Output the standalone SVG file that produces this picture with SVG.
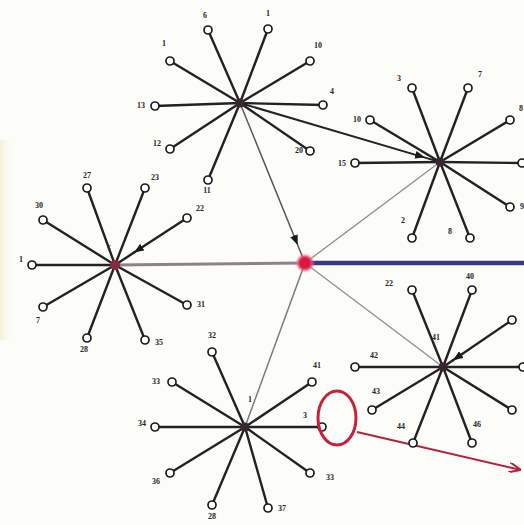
<svg xmlns="http://www.w3.org/2000/svg" width="524" height="525" viewBox="0 0 524 525">
<defs>
<style>
.sp{stroke:#222;stroke-width:2.4;fill:none;stroke-linecap:round}
.lf{fill:#fff;stroke:#1a1a1a;stroke-width:1.7}
.hub{fill:#3a2630}
.lb{font-family:"Liberation Serif",serif;font-size:8px;font-weight:bold;fill:#262626;text-anchor:middle}
.thin{stroke:#8e8e8e;stroke-width:1.3;fill:none}
</style>
<marker id="ar" viewBox="0 0 10 8" refX="10" refY="4" markerWidth="10" markerHeight="8" markerUnits="userSpaceOnUse" orient="auto">
<path d="M0,0 L10,4 L0,8 z" fill="#1a1a1a"/>
</marker>
<marker id="arr" viewBox="0 0 12 10" refX="12" refY="5" markerWidth="12" markerHeight="10" markerUnits="userSpaceOnUse" orient="auto">
<path d="M0,0 L12,5 L0,10" fill="none" stroke="#b5203c" stroke-width="2"/>
</marker>
<radialGradient id="glow">
<stop offset="0" stop-color="#e0103c"/>
<stop offset="0.6" stop-color="#e8305a"/>
<stop offset="1" stop-color="#f4a0b4" stop-opacity="0"/>
</radialGradient>
<linearGradient id="edge" x1="0" y1="0" x2="1" y2="0">
<stop offset="0" stop-color="#f3f0d8"/>
<stop offset="1" stop-color="#fcfcf9" stop-opacity="0"/>
</linearGradient>
</defs>
<rect width="524" height="525" fill="#fcfcf9"/>
<rect x="0" y="140" width="14" height="200" fill="url(#edge)"/>

<g id="connectors">
<line x1="115" y1="265" x2="305" y2="263" stroke="#8c8484" stroke-width="3"/>
<line x1="305" y1="263" x2="524" y2="263" stroke="#3b3684" stroke-width="4.5"/>
<line x1="240" y1="103" x2="297.7" y2="245" stroke="#555" stroke-width="1.5" marker-end="url(#ar)"/>
<line x1="297.7" y1="245" x2="305" y2="263" stroke="#555" stroke-width="1.5"/>
<line x1="240" y1="103" x2="425" y2="157.6" stroke="#222" stroke-width="2" marker-end="url(#ar)"/>
<line x1="425" y1="157.6" x2="440" y2="162" stroke="#222" stroke-width="2"/>
<line class="thin" x1="305" y1="263" x2="440" y2="162"/>
<line class="thin" x1="305" y1="263" x2="443" y2="367"/>
<line x1="305" y1="263" x2="245" y2="427" stroke="#7a7a7a" stroke-width="1.5"/>
<line x1="357" y1="432" x2="521" y2="470" stroke="#b5203c" stroke-width="2" marker-end="url(#arr)"/>
</g>

<g id="hub-red">
<circle cx="305" cy="263" r="10" fill="url(#glow)"/>
<circle cx="305" cy="263" r="5" fill="#d81840"/>
</g>

<g id="cluster-A">
<g class="sp">
<line x1="240" y1="103" x2="208" y2="30"/><line x1="240" y1="103" x2="268" y2="29"/>
<line x1="240" y1="103" x2="170" y2="61"/><line x1="240" y1="103" x2="310" y2="61"/>
<line x1="240" y1="103" x2="155" y2="106"/><line x1="240" y1="103" x2="323" y2="105"/>
<line x1="240" y1="103" x2="170" y2="149"/><line x1="240" y1="103" x2="310" y2="151"/>
<line x1="240" y1="103" x2="208" y2="180"/>
</g>
<circle class="hub" cx="240" cy="103" r="4.5"/>
<g id="A1"><circle class="lf" cx="208" cy="30" r="4"/><text class="lb" x="205" y="18">6</text></g>
<g id="A2"><circle class="lf" cx="268" cy="29" r="4"/><text class="lb" x="268" y="16">1</text></g>
<g id="A3"><circle class="lf" cx="170" cy="61" r="4"/><text class="lb" x="164" y="46">1</text></g>
<g id="A4"><circle class="lf" cx="310" cy="61" r="4"/><text class="lb" x="318" y="48">10</text></g>
<g id="A5"><circle class="lf" cx="155" cy="106" r="4"/><text class="lb" x="141" y="108">13</text></g>
<g id="A6"><circle class="lf" cx="323" cy="105" r="4"/><text class="lb" x="332" y="94">4</text></g>
<g id="A7"><circle class="lf" cx="170" cy="149" r="4"/><text class="lb" x="157" y="146">12</text></g>
<g id="A8"><circle class="lf" cx="310" cy="151" r="4"/><text class="lb" x="299" y="153">20</text></g>
<g id="A9"><circle class="lf" cx="208" cy="180" r="4"/><text class="lb" x="207" y="193">11</text></g>
</g>

<g id="cluster-B">
<g class="sp">
<line x1="440" y1="162" x2="412" y2="88"/><line x1="440" y1="162" x2="468" y2="88"/>
<line x1="440" y1="162" x2="370" y2="120"/><line x1="440" y1="162" x2="510" y2="120"/>
<line x1="440" y1="162" x2="355" y2="163"/><line x1="440" y1="162" x2="522" y2="163"/>
<line x1="440" y1="162" x2="510" y2="207"/><line x1="440" y1="162" x2="412" y2="238"/>
<line x1="440" y1="162" x2="470" y2="238"/>
</g>
<circle class="hub" cx="440" cy="162" r="4.5"/>
<g id="B1"><circle class="lf" cx="412" cy="88" r="4"/><text class="lb" x="399" y="81">3</text></g>
<g id="B2"><circle class="lf" cx="468" cy="88" r="4"/><text class="lb" x="480" y="77">7</text></g>
<g id="B3"><circle class="lf" cx="370" cy="120" r="4"/><text class="lb" x="357" y="122">10</text></g>
<g id="B4"><circle class="lf" cx="510" cy="120" r="4"/><text class="lb" x="521" y="111">8</text></g>
<g id="B5"><circle class="lf" cx="355" cy="163" r="4"/><text class="lb" x="342" y="166">15</text></g>
<g id="B6"><circle class="lf" cx="522" cy="163" r="4"/></g>
<g id="B7"><circle class="lf" cx="510" cy="207" r="4"/><text class="lb" x="522" y="209">9</text></g>
<g id="B8"><circle class="lf" cx="412" cy="238" r="4"/><text class="lb" x="403" y="223">2</text></g>
<g id="B9"><circle class="lf" cx="470" cy="238" r="4"/><text class="lb" x="450" y="234">8</text></g>
</g>

<g id="cluster-C">
<g class="sp">
<line x1="115" y1="265" x2="32" y2="265"/>
<line x1="115" y1="265" x2="87" y2="188"/><line x1="115" y1="265" x2="145" y2="188"/>
<line x1="115" y1="265" x2="43" y2="220"/>
<line x1="187" y1="218" x2="134" y2="252.6" marker-end="url(#ar)"/><line x1="134" y1="252.6" x2="115" y2="265"/>
<line x1="115" y1="265" x2="43" y2="307"/><line x1="115" y1="265" x2="187" y2="305"/>
<line x1="115" y1="265" x2="87" y2="338"/><line x1="115" y1="265" x2="145" y2="340"/>
</g>
<circle cx="115" cy="265" r="5" fill="#8a2a40"/>
<text class="lb" x="109" y="249">c</text>
<g id="C1"><circle class="lf" cx="32" cy="265" r="4"/><text class="lb" x="21" y="262">1</text></g>
<g id="C2"><circle class="lf" cx="87" cy="188" r="4"/><text class="lb" x="87" y="178">27</text></g>
<g id="C3"><circle class="lf" cx="145" cy="188" r="4"/><text class="lb" x="155" y="180">23</text></g>
<g id="C4"><circle class="lf" cx="43" cy="220" r="4"/><text class="lb" x="39" y="208">30</text></g>
<g id="C5"><circle class="lf" cx="187" cy="218" r="4"/><text class="lb" x="200" y="211">22</text></g>
<g id="C6"><circle class="lf" cx="43" cy="307" r="4"/><text class="lb" x="38" y="323">7</text></g>
<g id="C7"><circle class="lf" cx="187" cy="305" r="4"/><text class="lb" x="201" y="307">31</text></g>
<g id="C8"><circle class="lf" cx="87" cy="338" r="4"/><text class="lb" x="84" y="352">28</text></g>
<g id="C9"><circle class="lf" cx="145" cy="340" r="4"/><text class="lb" x="159" y="345">35</text></g>
</g>

<g id="cluster-D">
<g class="sp">
<line x1="245" y1="427" x2="212" y2="352"/><line x1="245" y1="427" x2="172" y2="382"/>
<line x1="245" y1="427" x2="312" y2="382"/><line x1="245" y1="427" x2="155" y2="427"/>
<line x1="245" y1="427" x2="322" y2="427"/><line x1="245" y1="427" x2="170" y2="473"/>
<line x1="245" y1="427" x2="310" y2="473"/><line x1="245" y1="427" x2="212" y2="505"/>
<line x1="245" y1="427" x2="268" y2="508"/>
</g>
<circle class="hub" cx="245" cy="427" r="4.5"/>
<text class="lb" x="250" y="402">1</text>
<g id="D1"><circle class="lf" cx="212" cy="352" r="4"/><text class="lb" x="212" y="338">32</text></g>
<g id="D2"><circle class="lf" cx="172" cy="382" r="4"/><text class="lb" x="156" y="384">33</text></g>
<g id="D3"><circle class="lf" cx="312" cy="382" r="4"/><text class="lb" x="317" y="368">41</text></g>
<g id="D4"><circle class="lf" cx="155" cy="427" r="4"/><text class="lb" x="142" y="426">34</text></g>
<g id="D5"><circle class="lf" cx="322" cy="427" r="4"/><text class="lb" x="305" y="418">3</text></g>
<g id="D6"><circle class="lf" cx="170" cy="473" r="4"/><text class="lb" x="156" y="484">36</text></g>
<g id="D7"><circle class="lf" cx="310" cy="473" r="4"/><text class="lb" x="330" y="480">33</text></g>
<g id="D8"><circle class="lf" cx="212" cy="505" r="4"/><text class="lb" x="212" y="519">28</text></g>
<g id="D9"><circle class="lf" cx="268" cy="508" r="4"/><text class="lb" x="282" y="511">37</text></g>
</g>

<g id="cluster-E">
<g class="sp">
<line x1="443" y1="367" x2="412" y2="290"/><line x1="443" y1="367" x2="472" y2="290"/>
<line x1="512" y1="320" x2="453" y2="360.2" marker-end="url(#ar)"/><line x1="453" y1="360.2" x2="443" y2="367"/>
<line x1="443" y1="367" x2="355" y2="367"/><line x1="443" y1="367" x2="523" y2="367"/>
<line x1="443" y1="367" x2="372" y2="410"/><line x1="443" y1="367" x2="512" y2="410"/>
<line x1="443" y1="367" x2="413" y2="443"/><line x1="443" y1="367" x2="472" y2="443"/>
</g>
<circle class="hub" cx="443" cy="367" r="4.5"/>
<text class="lb" x="436" y="340">41</text>
<g id="E1"><circle class="lf" cx="412" cy="290" r="4"/><text class="lb" x="389" y="286">22</text></g>
<g id="E2"><circle class="lf" cx="472" cy="290" r="4"/><text class="lb" x="470" y="279">40</text></g>
<g id="E3"><circle class="lf" cx="512" cy="320" r="4"/></g>
<g id="E4"><circle class="lf" cx="355" cy="367" r="4"/><text class="lb" x="374" y="358">42</text></g>
<g id="E5"><circle class="lf" cx="523" cy="367" r="4"/></g>
<g id="E6"><circle class="lf" cx="372" cy="410" r="4"/><text class="lb" x="376" y="394">43</text></g>
<g id="E7"><circle class="lf" cx="512" cy="410" r="4"/></g>
<g id="E8"><circle class="lf" cx="413" cy="443" r="4"/><text class="lb" x="401" y="429">44</text></g>
<g id="E9"><circle class="lf" cx="472" cy="443" r="4"/><text class="lb" x="477" y="427">46</text></g>
</g>

<g id="highlight">
<ellipse cx="337" cy="418" rx="19" ry="27" fill="none" stroke="#c8203a" stroke-width="3"/>
</g>
</svg>
